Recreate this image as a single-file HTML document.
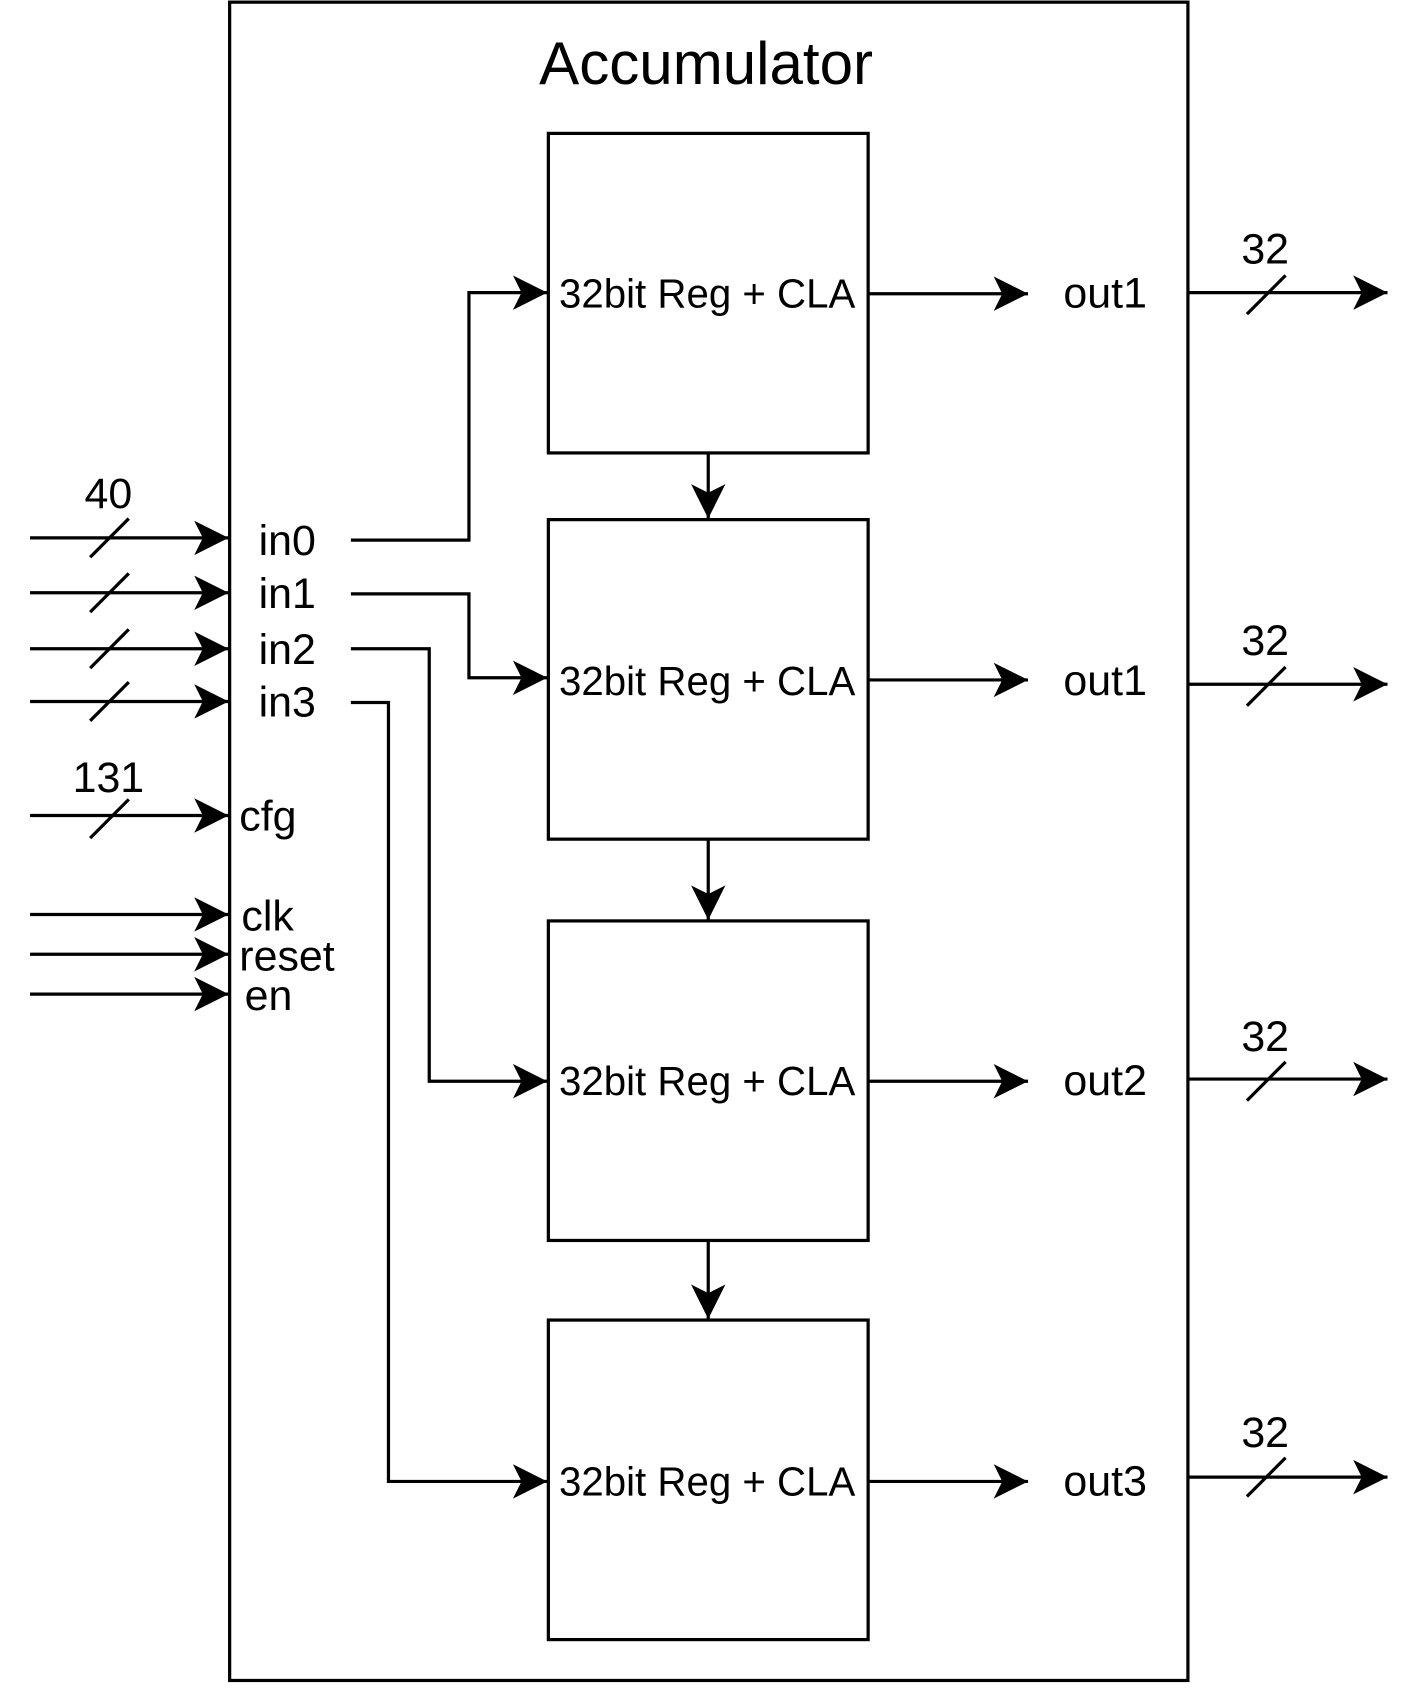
<!DOCTYPE html>
<html><head><meta charset="utf-8"><style>
html,body{margin:0;padding:0;background:#fff;}
svg{display:block;}
text{font-family:"Liberation Sans",Arial,sans-serif;fill:#000;}
</style></head><body>
<svg width="1424" height="1688" viewBox="-1 0 1327 1569" preserveAspectRatio="none" xmlns="http://www.w3.org/2000/svg">
<defs>
<marker id="a" markerUnits="userSpaceOnUse" markerWidth="40" markerHeight="40" viewBox="0 -20 40 40" refX="32" refY="0" orient="auto">
<path d="M0,-16 L32,0 L0,16 L8,0 z" fill="#000"/>
</marker>
</defs>
<g fill="none" stroke="#000" stroke-width="3">
<rect x="213" y="2" width="893" height="1560"/>
<rect x="510" y="124" width="298" height="297"/>
<rect x="510" y="483" width="298" height="297"/>
<rect x="510" y="856" width="298" height="297"/>
<rect x="510" y="1227" width="298" height="297"/>
</g>
<g fill="none" stroke="#000" stroke-width="3" marker-end="url(#a)">
<line x1="659" y1="421" x2="659" y2="482"/>
<line x1="659" y1="780" x2="659" y2="855"/>
<line x1="659" y1="1153" x2="659" y2="1226"/>
<line x1="808" y1="273" x2="957" y2="273"/>
<line x1="808" y1="632" x2="957" y2="632"/>
<line x1="808" y1="1005" x2="957" y2="1005"/>
<line x1="808" y1="1377" x2="957" y2="1377"/>
<line x1="1106" y1="272" x2="1292" y2="272"/>
<line x1="1106" y1="636" x2="1292" y2="636"/>
<line x1="1106" y1="1003" x2="1292" y2="1003"/>
<line x1="1106" y1="1373" x2="1292" y2="1373"/>
<line x1="27" y1="500" x2="212" y2="500"/>
<line x1="27" y1="551" x2="212" y2="551"/>
<line x1="27" y1="603" x2="212" y2="603"/>
<line x1="27" y1="652" x2="212" y2="652"/>
<line x1="27" y1="758" x2="212" y2="758"/>
<line x1="27" y1="850" x2="212" y2="850"/>
<line x1="27" y1="887" x2="212" y2="887"/>
<line x1="27" y1="924" x2="212" y2="924"/>
<polyline points="326,502 436,502 436,272 509,272"/>
<polyline points="326,552 436,552 436,630 509,630"/>
<polyline points="326,603 399,603 399,1005 509,1005"/>
<polyline points="326,653 361,653 361,1377 509,1377"/>
</g>
<g stroke="#000" stroke-width="3">
<line x1="1161" y1="292" x2="1197" y2="256"/>
<line x1="1161" y1="656" x2="1197" y2="620"/>
<line x1="1161" y1="1023" x2="1197" y2="987"/>
<line x1="1161" y1="1391" x2="1197" y2="1355"/>
<line x1="83" y1="518" x2="119" y2="482"/>
<line x1="83" y1="569" x2="119" y2="533"/>
<line x1="83" y1="621" x2="119" y2="585"/>
<line x1="83" y1="670" x2="119" y2="634"/>
<line x1="83" y1="779" x2="119" y2="743"/>
</g>
<text x="657" y="78" font-size="56" text-anchor="middle">Accumulator</text>
<g font-size="37.5" text-anchor="middle">
<text x="658" y="286">32bit Reg + CLA</text>
<text x="658" y="646">32bit Reg + CLA</text>
<text x="658" y="1018">32bit Reg + CLA</text>
<text x="658" y="1390">32bit Reg + CLA</text>
</g>
<g font-size="40">
<text x="990" y="286">out1</text>
<text x="990" y="646">out1</text>
<text x="990" y="1018">out2</text>
<text x="990" y="1390">out3</text>
<text x="1178" y="245" text-anchor="middle">32</text>
<text x="1178" y="609" text-anchor="middle">32</text>
<text x="1178" y="977" text-anchor="middle">32</text>
<text x="1178" y="1345" text-anchor="middle">32</text>
<text x="100" y="472" text-anchor="middle">40</text>
<text x="100" y="736" text-anchor="middle">131</text>
<text x="240" y="516">in0</text>
<text x="240" y="565">in1</text>
<text x="240" y="617">in2</text>
<text x="240" y="666">in3</text>
<text x="222" y="772">cfg</text>
<text x="224" y="865">clk</text>
<text x="222" y="902">reset</text>
<text x="227" y="939">en</text>
</g>
</svg>
</body></html>
